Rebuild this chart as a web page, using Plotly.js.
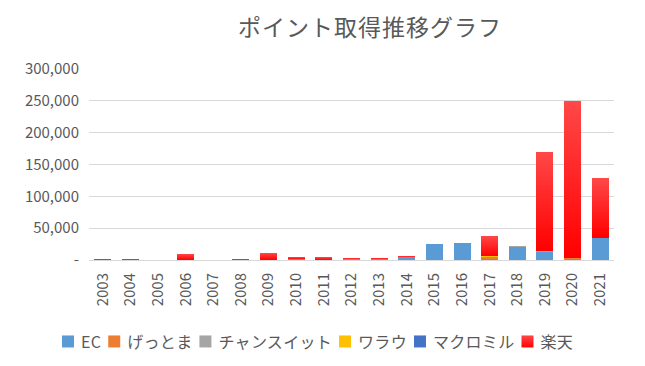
<!DOCTYPE html>
<html>
<head>
<meta charset="utf-8">
<script src="https://cdn.plot.ly/plotly-3.0.1.min.js"></script>
<style>html,body{margin:0;padding:0;background:#fff;}#chart{width:645px;height:366px;}</style>
</head>
<body>
<div id="chart"></div>
<script>
const years = ['2003','2004','2005','2006','2007','2008','2009','2010','2011','2012','2013','2014','2015','2016','2017','2018','2019','2020','2021'];
const ec        = [0,0,0,0,0,0,0,1500,0,1000,1000,4000,24500,26000,1000,20500,13000,1500,35000];
const gettoma   = [0,0,0,0,0,0,0,0,0,0,0,0,0,0,3500,0,0,2000,0];
const chanceit  = [0,0,0,0,0,0,0,0,0,0,0,0,0,0,0,2000,1500,0,0];
const warau     = [0,0,0,0,0,0,0,0,0,0,0,0,0,0,1500,0,0,0,0];
const macromill = [0,0,0,0,0,0,0,0,0,0,0,0,0,0,0,0,0,0,0];
const rakuten   = [1500,1500,0,9500,0,1500,11000,3000,4500,2000,2500,2500,0,0,32000,0,155500,246500,94000];
const seriesNames = ['EC','げっとま','チャンスイット','ワラウ','マクロミル','楽天'];
const yTickVals = [0,50000,100000,150000,200000,250000,300000];
const yTickText = ['-','50,000','100,000','150,000','200,000','250,000','300,000'];
const titleText = 'ポイント取得推移グラフ';

const colors = ['#5b9bd5','#ed7d31','#a5a5a5','#ffc000','#4472c4','#ff1a1a'];
const data = [ec,gettoma,chanceit,warau,macromill,rakuten].map((v,i)=>({
  type:'bar', x:years, y:v, name:seriesNames[i],
  marker:{color:colors[i], line:{width:0}}, hoverinfo:'none'
}));
const font = '"Noto Sans CJK JP","Noto Sans",sans-serif';
const layout = {
  width:645, height:366,
  margin:{l:89, r:31, t:69, b:106},
  paper_bgcolor:'#fff', plot_bgcolor:'#fff',
  barmode:'stack', bargap:0.386,
  font:{family:font, color:'#595959'},
  title:{text:titleText, font:{size:23, color:'#595959', family:font}, x:0.535, xref:'paper', xanchor:'center', y:0.925, yref:'container', yanchor:'middle'},
  xaxis:{type:'category', tickangle:-90, tickfont:{size:15, color:'#595959'}, showgrid:false, showline:false, ticks:'', zeroline:false, fixedrange:true, automargin:false, ticklabelstandoff:9},
  yaxis:{range:[0,300000], tickvals:yTickVals, ticktext:yTickText, tickfont:{size:15,color:'#595959'}, gridcolor:'#d9d9d9', gridwidth:1, zeroline:true, zerolinecolor:'#d9d9d9', zerolinewidth:1, showline:false, ticks:'', automargin:false, ticklabelstandoff:9, fixedrange:true},
  legend:{orientation:'h', xref:'container', x:0.5, xanchor:'center', yref:'container', y:0.034, yanchor:'middle', font:{size:16, color:'#595959'}, traceorder:'normal', itemclick:false},
  showlegend:true
};
Plotly.newPlot('chart', data, layout, {displayModeBar:false, staticPlot:true}).then(()=>{
  const svg = document.querySelector('#chart svg.main-svg');
  const ns = 'http://www.w3.org/2000/svg';
  let defs = svg.querySelector('defs');
  const g = document.createElementNS(ns,'linearGradient');
  g.setAttribute('id','redgrad'); g.setAttribute('x1','0'); g.setAttribute('y1','0'); g.setAttribute('x2','0'); g.setAttribute('y2','1');
  [['0','#ff4848'],['1','#ff0000']].forEach(([o,c])=>{const s=document.createElementNS(ns,'stop'); s.setAttribute('offset',o); s.setAttribute('stop-color',c); g.appendChild(s);});
  defs.appendChild(g);
  const traces = document.querySelectorAll('#chart .barlayer .trace');
  const last = traces[traces.length-1];
  last.querySelectorAll('path').forEach(p=>{p.style.fill='url(#redgrad)';});
  const t = document.querySelector('#chart .gtitle');
  if (t) t.style.letterSpacing = '1px';
  // compact legend spacing (Excel-like)
  const leg = document.querySelector('#chart .legend');
  leg.querySelectorAll('[clip-path]').forEach(e=>e.removeAttribute('clip-path'));
  const items = Array.from(leg.querySelectorAll('.traces'));
  const parse = tr => { const m = /translate\(\s*([-\d.]+)[ ,]+([-\d.]+)/.exec(tr||''); return m?[+m[1],+m[2]]:[0,0]; };
  const first = items[0];
  const [x0,y0] = parse(first.getAttribute('transform'));
  const sym0 = first.querySelector('.legendpoints path');
  const symLeftAbs = sym0.getBoundingClientRect().left;
  let target = 62;
  items.forEach((it,i)=>{
    const txt = it.querySelector('.legendtext');
    txt.setAttribute('x', 33);
    txt.style.letterSpacing = '0.3px';
    const tw = txt.getComputedTextLength();
    const nx = x0 + (target - symLeftAbs);
    it.setAttribute('transform', `translate(${nx},${y0})`);
    if (i===items.length-1) it.querySelectorAll('.legendpoints path').forEach(p=>{p.style.fill='url(#redgrad)';});
    target += 12 + 7 + tw + 7;
  });
});
</script>
</body>
</html>
